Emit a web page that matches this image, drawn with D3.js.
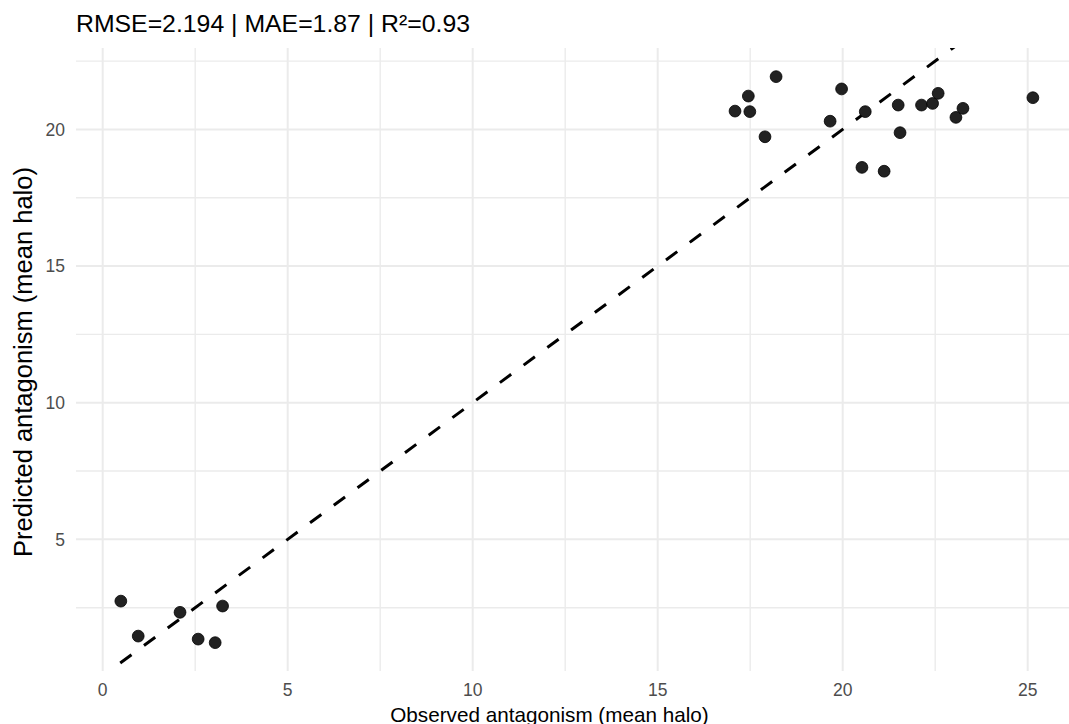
<!DOCTYPE html>
<html>
<head>
<meta charset="utf-8">
<script src="https://cdn.jsdelivr.net/npm/d3@7"></script>
<style>
  html, body { margin: 0; padding: 0; background: #ffffff; }
  svg { display: block; font-family: "Liberation Sans", Arial, Helvetica, sans-serif; }
</style>
</head>
<body>
<div id="chart"></div>
<script>
// ---- data ----
const observed  = [0.49, 0.96, 2.09, 2.58, 3.04, 3.24,
                   17.09, 17.45, 17.49, 17.90, 18.20, 19.66, 19.97, 20.61, 20.52,
                   21.12, 21.50, 21.55, 22.13, 22.43, 22.58, 23.06, 23.25, 25.14];
const predicted = [2.74, 1.46, 2.33, 1.35, 1.22, 2.56,
                   20.67, 21.22, 20.65, 19.73, 21.93, 20.30, 21.48, 20.65, 18.61,
                   18.47, 20.89, 19.88, 20.89, 20.95, 21.32, 20.44, 20.77, 21.16];
const xTicks = [0, 5, 10, 15, 20, 25];
const yTicks = [5, 10, 15, 20];
const xMinor = [2.5, 7.5, 12.5, 17.5, 22.5];
const yMinor = [2.5, 7.5, 12.5, 17.5, 22.5];
const titleText = "RMSE=2.194 | MAE=1.87 | R\u00b2=0.93";
const xLabel = "Observed antagonism (mean halo)";
const yLabel = "Predicted antagonism (mean halo)";

// ---- layout ----
const W = 1069, H = 724;
const panel = { left: 76, right: 1069, top: 48, bottom: 671 };

const x = d3.scaleLinear().domain([0, 25]).range([102.7, 1027.7]);
const y = d3.scaleLinear().domain([0, 20]).range([676, 129.4]);

const svg = d3.select("#chart").append("svg")
  .attr("width", W).attr("height", H);

svg.append("defs").append("clipPath").attr("id", "panelClip")
  .append("rect")
  .attr("x", panel.left).attr("y", panel.top)
  .attr("width", panel.right - panel.left).attr("height", panel.bottom - panel.top);

const grid = svg.append("g");
// minor grid
grid.selectAll("line.xminor").data(xMinor).join("line")
  .attr("class", "xminor")
  .attr("x1", d => x(d)).attr("x2", d => x(d))
  .attr("y1", panel.top).attr("y2", panel.bottom)
  .attr("stroke", "#ebebeb").attr("stroke-width", 1.4);
grid.selectAll("line.yminor").data(yMinor).join("line")
  .attr("class", "yminor")
  .attr("x1", panel.left).attr("x2", panel.right)
  .attr("y1", d => y(d)).attr("y2", d => y(d))
  .attr("stroke", "#ebebeb").attr("stroke-width", 1.4);
// major grid
grid.selectAll("line.xmajor").data(xTicks).join("line")
  .attr("class", "xmajor")
  .attr("x1", d => x(d)).attr("x2", d => x(d))
  .attr("y1", panel.top).attr("y2", panel.bottom)
  .attr("stroke", "#ebebeb").attr("stroke-width", 2);
grid.selectAll("line.ymajor").data(yTicks).join("line")
  .attr("class", "ymajor")
  .attr("x1", panel.left).attr("x2", panel.right)
  .attr("y1", d => y(d)).attr("y2", d => y(d))
  .attr("stroke", "#ebebeb").attr("stroke-width", 2);

// identity line
const xl = x.invert(panel.left), xr = x.invert(panel.right);
svg.append("g").attr("clip-path", "url(#panelClip)")
  .append("path")
  .datum([xl, xr])
  .attr("d", d3.line().x(d => x(d)).y(d => y(d)))
  .attr("fill", "none")
  .attr("stroke", "#000")
  .attr("stroke-width", 3)
  .attr("stroke-dasharray", "14,15.5")
  .attr("stroke-dashoffset", 4);

// points
svg.append("g").selectAll("circle").data(observed.map((o, i) => [o, predicted[i]])).join("circle")
  .attr("cx", d => x(d[0])).attr("cy", d => y(d[1]))
  .attr("r", 5.9)
  .attr("fill", "#222222")
  .attr("stroke", "#000")
  .attr("stroke-width", 0.8);

// axes tick labels
const tickColor = "#4d4d4d";
svg.append("g").selectAll("text").data(xTicks).join("text")
  .attr("x", d => x(d)).attr("y", 695.5)
  .attr("text-anchor", "middle")
  .attr("font-size", 17.5).attr("fill", tickColor)
  .text(d => d);
svg.append("g").selectAll("text").data(yTicks).join("text")
  .attr("x", 65).attr("y", d => y(d) + 6.3)
  .attr("text-anchor", "end")
  .attr("font-size", 17.5).attr("fill", tickColor)
  .text(d => d);

// titles
svg.append("text")
  .attr("x", 76).attr("y", 31.7)
  .attr("font-size", 24.8).attr("fill", "#000")
  .text(titleText);
svg.append("text")
  .attr("x", 549.5).attr("y", 721.5)
  .attr("text-anchor", "middle")
  .attr("font-size", 20.7).attr("fill", "#000")
  .text(xLabel);
svg.append("text")
  .attr("transform", "translate(32," + 362 + ") rotate(-90)")
  .attr("text-anchor", "middle")
  .attr("font-size", 25.5).attr("fill", "#000")
  .text(yLabel);
</script>
</body>
</html>
